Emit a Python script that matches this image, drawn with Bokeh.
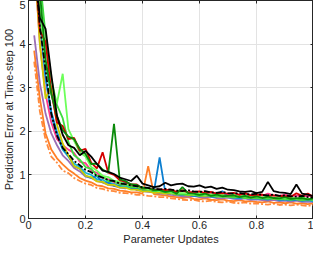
from bokeh.plotting import figure
from bokeh.models import (LinearAxis, FixedTicker, Range1d, NumeralTickFormatter,
                          CustomJSTickFormatter)
from bokeh.embed import file_html
from bokeh.resources import INLINE

# ---- data ----
x_updates = [0.02, 0.04, 0.06, 0.08, 0.10, 0.12, 0.14, 0.16, 0.18, 0.20,
             0.22, 0.24, 0.26, 0.28, 0.30, 0.32, 0.34, 0.36, 0.38, 0.40,
             0.42, 0.44, 0.46, 0.48, 0.50, 0.52, 0.54, 0.56, 0.58, 0.60,
             0.62, 0.64, 0.66, 0.68, 0.70, 0.72, 0.74, 0.76, 0.78, 0.80,
             0.82, 0.84, 0.86, 0.88, 0.90, 0.92, 0.94, 0.96, 0.98, 1.00]

orange_b = [3.60, 2.45, 1.80, 1.42, 1.28, 1.10, 1.04, 0.93, 0.86, 0.80,
            0.77, 0.70, 0.68, 0.64, 0.63, 0.59, 0.58, 0.57, 0.54, 0.54,
            0.52, 0.51, 0.49, 0.49, 0.46, 0.45, 0.43, 0.42, 0.43, 0.40,
            0.39, 0.41, 0.38, 0.37, 0.39, 0.36, 0.35, 0.37, 0.34, 0.35,
            0.33, 0.32, 0.34, 0.31, 0.32, 0.30, 0.32, 0.30, 0.29, 0.31]
orange_a = [3.85, 2.75, 1.95, 1.58, 1.38, 1.24, 1.12, 1.03, 0.93, 0.87,
            0.83, 0.76, 0.74, 0.69, 0.68, 0.64, 0.63, 0.60, 0.60, 0.57,
            1.20, 0.56, 0.54, 0.53, 0.50, 0.49, 0.47, 0.49, 0.45, 0.44,
            0.46, 0.43, 0.42, 0.44, 0.41, 0.40, 0.42, 0.39, 0.40, 0.38,
            0.37, 0.39, 0.36, 0.37, 0.35, 0.37, 0.34, 0.35, 0.33, 0.35]
purple = [4.20, 3.10, 2.40, 1.95, 1.68, 1.45, 1.32, 1.16, 1.08, 0.96,
          0.93, 0.86, 0.83, 0.77, 0.75, 0.71, 0.69, 0.74, 0.65, 0.63,
          0.61, 0.60, 0.57, 0.57, 0.54, 0.53, 0.51, 0.50, 0.52, 0.49,
          0.48, 0.50, 0.47, 0.46, 0.48, 0.45, 0.44, 0.46, 0.43, 0.44,
          0.42, 0.41, 0.43, 0.40, 0.41, 0.39, 0.41, 0.38, 0.39, 0.38]
cyan = [6.00, 4.90, 3.20, 2.35, 1.90, 1.58, 1.42, 1.26, 1.18, 1.05,
        1.00, 0.90, 0.89, 0.82, 0.80, 0.74, 0.74, 0.69, 0.68, 0.65,
        0.64, 0.61, 0.61, 0.58, 0.58, 0.55, 0.55, 0.54, 0.53, 0.52,
        0.51, 0.53, 0.50, 0.49, 0.51, 0.48, 0.47, 0.49, 0.46, 0.47,
        0.45, 0.44, 0.46, 0.43, 0.44, 0.42, 0.44, 0.41, 0.42, 0.40]
pink = [6.00, 4.00, 2.85, 2.20, 1.82, 1.68, 1.58, 1.50, 1.30, 1.27,
        1.10, 1.05, 0.93, 0.90, 0.83, 0.82, 0.77, 0.77, 0.72, 0.72,
        0.68, 0.68, 0.64, 0.65, 0.62, 0.61, 0.63, 0.60, 0.58, 0.61,
        0.57, 0.59, 0.56, 0.58, 0.55, 0.57, 0.54, 0.56, 0.53, 0.55,
        0.52, 0.57, 0.53, 0.52, 0.55, 0.51, 0.53, 0.50, 0.52, 0.50]
blue = [6.00, 4.50, 3.25, 2.45, 1.98, 1.62, 1.44, 1.20, 1.14, 0.98,
        0.93, 0.97, 0.83, 0.82, 0.75, 0.75, 0.86, 0.70, 0.70, 0.65,
        0.65, 0.61, 1.40, 0.60, 0.59, 0.55, 0.54, 0.54, 0.52, 0.51,
        0.53, 0.50, 0.49, 0.63, 0.49, 0.48, 0.48, 0.47, 0.46, 0.46,
        0.45, 0.44, 0.46, 0.43, 0.44, 0.42, 0.43, 0.41, 0.43, 0.41]
yellow = [6.00, 4.00, 2.75, 3.05, 2.15, 1.72, 1.45, 1.20, 1.14, 0.98,
          0.95, 0.85, 0.84, 0.77, 0.77, 0.71, 0.71, 0.66, 0.66, 0.62,
          0.63, 0.59, 0.60, 0.57, 0.58, 0.55, 0.56, 0.53, 0.55, 0.52,
          0.52, 0.53, 0.50, 0.51, 0.50, 0.49, 0.50, 0.47, 0.48, 0.47,
          0.46, 0.48, 0.45, 0.46, 0.44, 0.46, 0.44, 0.43, 0.45, 0.43]
green_b = [6.00, 5.50, 4.20, 3.20, 2.60, 2.30, 1.75, 1.45, 1.35, 1.18,
           1.14, 0.98, 0.97, 0.86, 0.86, 0.78, 0.78, 0.72, 0.72, 0.67,
           0.67, 0.63, 0.63, 0.60, 0.60, 0.56, 0.56, 0.55, 0.55, 0.52,
           0.55, 0.51, 0.52, 0.51, 0.51, 0.48, 0.50, 0.47, 0.48, 0.47,
           0.46, 0.45, 0.47, 0.44, 0.45, 0.43, 0.45, 0.42, 0.44, 0.42]
light_green = [6.00, 4.80, 3.50, 2.90, 2.65, 3.32, 2.05, 1.78, 1.52, 1.42,
               1.18, 1.10, 0.98, 0.95, 0.86, 0.85, 0.78, 0.78, 0.72, 0.72,
               0.67, 0.67, 0.63, 0.64, 0.59, 0.59, 0.58, 0.58, 0.55, 0.59,
               0.54, 0.55, 0.54, 0.54, 0.51, 0.55, 0.50, 0.53, 0.49, 0.52,
               0.48, 0.51, 0.47, 0.50, 0.46, 0.49, 0.45, 0.49, 0.44, 0.48]
red = [6.00, 4.30, 4.05, 2.90, 2.20, 2.12, 1.82, 1.85, 1.55, 1.60,
       1.28, 1.15, 1.52, 1.05, 1.00, 0.88, 0.84, 0.78, 0.78, 0.69,
       0.70, 0.65, 0.67, 0.65, 0.66, 0.61, 0.65, 0.60, 0.61, 0.62,
       0.58, 0.61, 0.57, 0.58, 0.57, 0.59, 0.54, 0.58, 0.53, 0.54,
       0.55, 0.52, 0.53, 0.52, 0.51, 0.50, 0.58, 0.52, 0.57, 0.50]
green = [6.00, 5.20, 3.65, 2.85, 2.35, 2.02, 1.88, 1.82, 1.60, 1.48,
         1.25, 1.26, 1.12, 1.05, 2.17, 0.90, 0.86, 0.78, 0.77, 0.70,
         0.70, 0.65, 0.65, 0.61, 0.63, 0.57, 0.72, 0.58, 0.57, 0.54,
         0.57, 0.52, 0.55, 0.51, 0.52, 0.53, 0.49, 0.52, 0.48, 0.51,
         0.47, 0.50, 0.47, 0.46, 0.49, 0.45, 0.46, 0.47, 0.44, 0.46]
black_dash = [6.00, 4.40, 3.40, 2.40, 1.90, 1.62, 1.48, 1.32, 1.22, 1.12,
              1.06, 0.98, 0.94, 0.88, 0.86, 0.80, 0.79, 0.76, 0.74, 0.72,
              0.70, 0.69, 0.67, 0.68, 0.66, 0.64, 0.63, 0.65, 0.62, 0.61,
              0.63, 0.60, 0.59, 0.61, 0.58, 0.57, 0.59, 0.56, 0.55, 0.57,
              0.54, 0.53, 0.55, 0.52, 0.53, 0.51, 0.50, 0.52, 0.49, 0.48]
black = [6.00, 4.60, 4.35, 3.30, 2.35, 1.92, 1.68, 1.62, 1.45, 1.55,
         1.42, 1.25, 1.10, 1.07, 1.02, 0.94, 0.90, 0.86, 0.98, 0.80,
         0.76, 0.72, 0.74, 0.82, 0.76, 0.79, 0.80, 0.74, 0.73, 0.76,
         0.71, 0.73, 0.68, 0.71, 0.66, 0.65, 0.62, 0.61, 0.63, 0.58,
         0.61, 0.84, 0.63, 0.60, 0.59, 0.56, 0.78, 0.57, 0.55, 0.51]

x_ticks = [0, 0.2, 0.4, 0.6, 0.8, 1.0]
y_ticks = [0, 1, 2, 3, 4, 5]
x_label = "Parameter Updates"
y_label = "Prediction Error at Time-step 100"

series = [
    (orange_b, "#ff8a3d", "6 2 2 2"),
    (orange_a, "#ff7f27", "solid"),
    (purple, "#9b6fb5", "solid"),
    (cyan, "#14b8d4", "solid"),
    (pink, "#ff3a8c", "solid"),
    (blue, "#0d7fd0", "solid"),
    (yellow, "#cccc00", "solid"),
    (green_b, "#3fdc3f", "solid"),
    (light_green, "#6cff5a", "solid"),
    (red, "#d40000", "solid"),
    (green, "#0a8a0a", "solid"),
    (black_dash, "#000000", "6 2 2 2"),
    (black, "#000000", "solid"),
]

FONT = "Liberation Sans"
TXT = "#262626"

p = figure(width=313, height=247, output_backend="svg", toolbar_location=None,
           x_range=Range1d(0, 1), y_range=Range1d(0, 5),
           min_border_left=26, min_border_right=0, min_border_top=0,
           min_border_bottom=0, background_fill_color="white",
           border_fill_color="white")

for ys, col, dash in series:
    p.line(x_updates, ys, line_color=col, line_width=1.8, line_dash=dash)

p.outline_line_color = TXT
p.outline_line_width = 1

for ax in (p.xaxis[0], p.yaxis[0]):
    ax.major_label_text_font = FONT
    ax.major_label_text_font_size = "11px"
    ax.major_label_text_color = TXT
    ax.axis_label_text_font = FONT
    ax.axis_label_text_font_size = "11px"
    ax.axis_label_text_font_style = "normal"
    ax.axis_label_text_color = TXT
    ax.axis_line_color = TXT
    ax.major_tick_line_color = TXT
    ax.major_tick_in = 3
    ax.major_tick_out = 0
    ax.minor_tick_line_color = None
    ax.major_label_standoff = 3
    ax.axis_label_standoff = 1
    ax.formatter = NumeralTickFormatter(format="0.[0]")

p.xaxis[0].major_label_standoff = 2
p.xaxis[0].ticker = FixedTicker(ticks=x_ticks)
p.yaxis[0].ticker = FixedTicker(ticks=y_ticks)
p.xaxis[0].axis_label = x_label
p.yaxis[0].axis_label = y_label

blank = CustomJSTickFormatter(code="return '';")
top = LinearAxis(ticker=FixedTicker(ticks=x_ticks), formatter=blank,
                 major_tick_in=3, major_tick_out=0, minor_tick_line_color=None,
                 major_label_standoff=0, axis_line_color=TXT, major_tick_line_color=TXT)
right = LinearAxis(ticker=FixedTicker(ticks=y_ticks), formatter=blank,
                   major_tick_in=3, major_tick_out=0, minor_tick_line_color=None,
                   major_label_standoff=0, axis_line_color=TXT, major_tick_line_color=TXT)
p.add_layout(top, "above")
p.add_layout(right, "right")

p.xgrid.ticker = FixedTicker(ticks=x_ticks)
p.ygrid.ticker = FixedTicker(ticks=y_ticks)
p.grid.grid_line_color = "#e3e3e3"
p.grid.grid_line_width = 1

open("out.html", "w").write(file_html(p, INLINE))
